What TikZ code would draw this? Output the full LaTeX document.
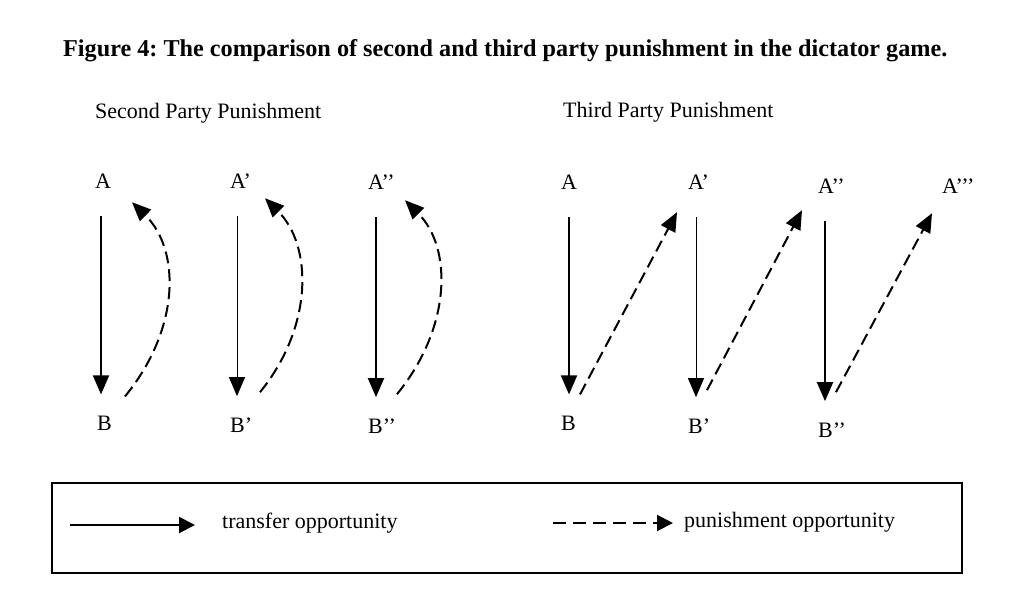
\documentclass[tikz,border=0pt]{standalone}
\usepackage{fontspec}
\setmainfont{Liberation Serif}
\usepackage{tikz}
\usetikzlibrary{arrows.meta}
\frenchspacing

\tikzset{
  lbl/.style={anchor=base west, inner sep=0pt, font=\fontsize{22}{24}\selectfont},
  transfer/.style={-{Triangle[length=19pt,width=16pt]}, line width=2pt, shorten <=28pt, shorten >=21pt},
  thin transfer/.style={transfer, line width=1pt},
  punish/.style={-{Triangle[length=19pt,width=16pt]}, line width=2pt, dash pattern=on 12pt off 6pt},
}

\begin{document}
\begin{tikzpicture}[x=1pt, y=-1pt]
	\useasboundingbox (0,0) rectangle (1022,600);

	% Titolo e sottotitoli
	\node[lbl, font=\fontsize{24.2}{26}\selectfont\bfseries] (title) at (63,56)
		{Figure 4: The comparison of second and third party punishment in the dictator game.};
	\node[lbl] (second) at (95,118) {Second Party Punishment};
	\node[lbl] (third) at (563,117) {Third Party Punishment};

	% Punizione di seconda parte: etichette
	\node[lbl] (LA) at (95,188) {A};
	\node[lbl] (LA1) at (230,188) {A’};
	\node[lbl] (LA2) at (368,189) {A’’};
	\node[lbl] (LB) at (97,430) {B};
	\node[lbl] (LB1) at (230,432) {B’};
	\node[lbl] (LB2) at (368,433) {B’’};

	% Frecce di trasferimento A -> B
	\draw[transfer] ([xshift=6pt]LA.south west) -- ([xshift=4pt]LB.north west);
	\draw[thin transfer] ([xshift=7pt]LA1.south west) -- ([xshift=7pt]LB1.north west);
	\draw[transfer] ([xshift=8pt]LA2.south west) -- ([xshift=8pt]LB2.north west);

	% Frecce di punizione B -> A (curve)
	\draw[punish] ([shift={(28,-19)}]LB.north west) .. controls +(55,-67) and +(49,48) .. ([shift={(37,14)}]LA.south west);
	\draw[punish] ([shift={(30,-25)}]LB1.north west) .. controls +(53,-65) and +(48,48) .. ([shift={(35,10)}]LA1.south west);
	\draw[punish] ([shift={(29,-24)}]LB2.north west) .. controls +(54,-66) and +(48,48) .. ([shift={(37,11)}]LA2.south west);

	% Punizione di terza parte: etichette
	\node[lbl] (RA) at (561,189) {A};
	\node[lbl] (RA1) at (688,189) {A’};
	\node[lbl] (RA2) at (818,193) {A’’};
	\node[lbl] (RA3) at (942,193) {A’’’};
	\node[lbl] (RB) at (561,430) {B};
	\node[lbl] (RB1) at (688,433) {B’};
	\node[lbl] (RB2) at (818,437) {B’’};

	% Frecce di trasferimento A -> B
	\draw[transfer] ([xshift=8pt]RA.south west) -- ([xshift=8pt]RB.north west);
	\draw[thin transfer] ([xshift=8pt]RA1.south west) -- ([xshift=8pt]RB1.north west);
	\draw[transfer] ([xshift=7pt]RA2.south west) -- ([xshift=7pt]RB2.north west);

	% Frecce di punizione B -> A successivo
	\draw[punish] ([shift={(19,-21)}]RB.north west) -- ([shift={(-11,23)}]RA1.south west);
	\draw[punish] ([shift={(19,-28)}]RB1.north west) -- ([shift={(-16,17)}]RA2.south west);
	\draw[punish] ([shift={(18,-30)}]RB2.north west) -- ([shift={(-10,20)}]RA3.south west);

	% Legenda
	\draw[line width=1.5pt] (52,483) rectangle (962,573);
	\node[lbl] (ltransfer) at (222,528) {transfer opportunity};
	\node[lbl] (lpunish) at (684,527) {punishment opportunity};
	\coordinate (ts) at (70,525);
	\coordinate (ps) at (553,523);
	\draw[-{Triangle[length=16pt,width=16pt]}, line width=2pt, shorten >=27pt] (ts) -- (ts -| ltransfer.west);
	\draw[-{Triangle[length=16pt,width=16pt]}, line width=2pt, dash pattern=on 13pt off 7pt, shorten >=11pt] (ps) -- (ps -| lpunish.west);

\end{tikzpicture}
\end{document}
